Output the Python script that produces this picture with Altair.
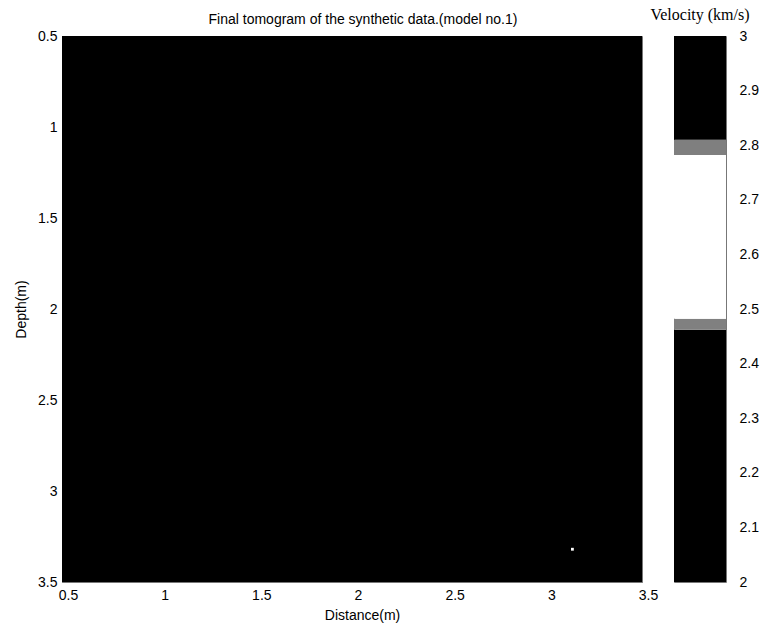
import altair as alt
import pandas as pd

# Tomogram section: the whole grid reads as one uniform low-velocity block
cell_x0 = [0.5]
cell_x1 = [3.5]
cell_y0 = [0.5]
cell_y1 = [3.5]
cell_v = [2.2]

# Isolated bright pixel near the lower right
spot_x = [3.14]
spot_y = [3.32]
spot_v = [2.6]

# Colormap breakpoints (velocity, km/s) and colours
cmap_domain = [2.0, 2.462, 2.482, 2.782, 2.81, 3.0]
cmap_range = ["#000000", "#000000", "#ffffff", "#ffffff", "#000000", "#000000"]

x_ticks = [0.5, 1, 1.5, 2, 2.5, 3, 3.5]
y_ticks = [0.5, 1, 1.5, 2, 2.5, 3, 3.5]
cbar_ticks = [2, 2.1, 2.2, 2.3, 2.4, 2.5, 2.6, 2.7, 2.8, 2.9, 3]

FONT = "Liberation Sans"

cells = pd.DataFrame({"x0": cell_x0, "x1": cell_x1, "y0": cell_y0, "y1": cell_y1, "v": cell_v})
spots = pd.DataFrame({"x": spot_x, "y": spot_y, "v": spot_v})
# colour-bar segments taken from consecutive colormap breakpoints
seg_lo = cmap_domain[:-1]
seg_hi = cmap_domain[1:]
segs = pd.DataFrame({
    "lo": seg_lo,
    "hi": seg_hi,
    "v": [(a + b) / 2 for a, b in zip(seg_lo, seg_hi)],
})

xscale = alt.Scale(domain=[0.5, 3.5], nice=False, zero=False)
yscale = alt.Scale(domain=[0.5, 3.5], nice=False, zero=False, reverse=True)
cscale = alt.Scale(domain=cmap_domain, range=cmap_range, type="linear", interpolate="rgb")

xaxis = alt.Axis(
    title="Distance(m)", values=x_ticks, format="~g", ticks=False, tickSize=0,
    labelPadding=6, labelFlush=False, labelOffset=6, titlePadding=6, titleX=300, grid=False,
)
yaxis = alt.Axis(
    title="Depth(m)", values=y_ticks, format="~g", ticks=False, tickSize=0,
    labelPadding=5, labelFlush=False, titlePadding=9, grid=False,
)

base = alt.Chart(cells).mark_rect().encode(
    x=alt.X("x0:Q", scale=xscale, axis=xaxis),
    x2="x1:Q",
    y=alt.Y("y0:Q", scale=yscale, axis=yaxis),
    y2="y1:Q",
    color=alt.Color("v:Q", scale=cscale, legend=None),
)

spot = alt.Chart(spots).mark_square(size=8, opacity=1).encode(
    x=alt.X("x:Q", scale=xscale),
    y=alt.Y("y:Q", scale=yscale),
    color=alt.Color("v:Q", scale=cscale, legend=None),
)

main = alt.layer(base, spot).properties(
    width=580,
    height=546,
    title=alt.TitleParams(
        "Final tomogram of the synthetic data.(model no.1)",
        font=FONT, fontSize=14, fontWeight="normal", color="black",
        anchor="middle", frame="group", offset=2, dx=11,
    ),
)

cbar = alt.Chart(segs).mark_rect().encode(
    y=alt.Y(
        "lo:Q",
        scale=alt.Scale(domain=[2, 3], nice=False, zero=False),
        axis=alt.Axis(
            orient="right", title=None, values=cbar_ticks, format="~g",
            ticks=False, tickSize=0, labelPadding=13, labelFlush=False, grid=False,
            domain=False,
        ),
    ),
    y2="hi:Q",
    color=alt.Color("v:Q", scale=cscale, legend=None),
).properties(
    width=52,
    height=546,
    title=alt.TitleParams(
        "Velocity (km/s)",
        font="Liberation Serif", fontSize=16, fontWeight="normal", color="black",
        anchor="middle", offset=6,
    ),
)

chart = (
    alt.hconcat(main, cbar, spacing=32, bounds="flush")
    .properties(
        padding={"left": 14, "top": 6, "right": 5, "bottom": 5},
        background="white",
    )
    .configure_axis(
        labelFont=FONT, labelFontSize=14, labelColor="black",
        titleFont=FONT, titleFontSize=14, titleFontWeight="normal", titleColor="black",
        domainColor="#777777", domainWidth=1,
    )
    .configure_view(stroke="#777777", strokeWidth=1)
)

chart.save("out.html", embed_options={"renderer": "svg", "actions": False})
